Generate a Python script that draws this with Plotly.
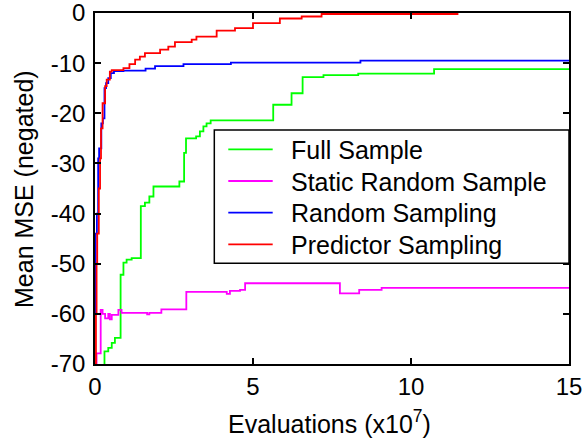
import plotly.graph_objects as go

# Full Sample
full_x = [0.28, 0.30, 0.42, 0.53, 0.63, 0.81, 0.90, 1.00, 1.16, 1.45, 1.58, 1.72, 1.85, 2.67, 2.82, 2.88, 3.20, 3.32, 3.43, 3.53, 3.66, 5.64, 6.22, 6.57, 7.23, 8.33, 10.73, 15.0]
full_y = [-70.0, -67.5, -66.8, -65.8, -64.8, -52.2, -49.8, -49.2, -48.9, -38.5, -37.8, -36.6, -34.6, -33.6, -27.9, -25.0, -24.6, -23.6, -22.6, -22.0, -21.4, -18.3, -16.0, -12.8, -12.4, -12.1, -11.2, -11.2]

# Static Random Sample
static_x = [0.04, 0.05, 0.18, 0.24, 0.32, 0.42, 0.47, 0.53, 0.74, 0.84, 1.65, 1.72, 2.10, 2.89, 4.17, 4.27, 4.59, 4.75, 7.75, 8.36, 9.07, 15.0]
static_y = [-70.0, -67.9, -59.2, -60.0, -60.9, -60.0, -61.1, -60.2, -59.2, -59.8, -60.1, -59.8, -59.1, -55.6, -56.0, -55.4, -55.2, -53.9, -55.9, -55.2, -54.8, -54.8]

# Random Sampling
rand_x = [0.0, 0.02, 0.06, 0.10, 0.13, 0.20, 0.25, 0.30, 0.35, 0.42, 0.50, 0.60, 0.90, 1.60, 1.90, 2.80, 4.30, 8.40, 15.0]
rand_y = [-60.0, -44.0, -40.0, -29.0, -27.0, -22.0, -21.0, -15.0, -14.0, -13.0, -12.0, -11.6, -11.5, -11.1, -10.6, -10.2, -9.9, -9.5, -9.5]

# Predictor Sampling
pred_x = [0.0, 0.03, 0.05, 0.07, 0.12, 0.16, 0.19, 0.24, 0.32, 0.37, 0.47, 0.53, 0.90, 1.09, 1.27, 1.42, 1.58, 2.06, 2.32, 2.53, 3.06, 3.21, 3.85, 4.43, 5.00, 5.85, 6.54, 7.17, 11.5]
pred_y = [-70.0, -60.0, -50.0, -44.0, -35.0, -29.0, -23.0, -18.0, -14.6, -13.3, -11.7, -11.4, -11.0, -10.2, -9.3, -8.7, -8.0, -7.3, -6.7, -5.8, -5.3, -4.7, -3.5, -3.0, -2.0, -1.1, -0.7, -0.2, -0.2]

series_names = ["Full Sample", "Static Random Sample", "Random Sampling", "Predictor Sampling"]
series_colors = ["#00ff00", "#ff00ff", "#0000ff", "#ff0000"]

x_ticks = [0, 5, 10, 15]
x_ticktext = ["0", "5", "10", "15"]
y_ticks = [0, -10, -20, -30, -40, -50, -60, -70]
y_ticktext = ["0", "-10", "-20", "-30", "-40", "-50", "-60", "-70"]

x_title = "Evaluations (x10<sup>7</sup>)"
y_title = "Mean MSE (negated)"

FONT = "Liberation Sans, Arial, sans-serif"

fig = go.Figure()
for xs, ys, name, col in zip([full_x, static_x, rand_x, pred_x],
                             [full_y, static_y, rand_y, pred_y],
                             series_names, series_colors):
    fig.add_trace(go.Scatter(x=xs, y=ys, mode="lines", name=name, showlegend=False,
                             line=dict(color=col, width=1.8, shape="hv")))

axis_common = dict(showline=True, linecolor="black", linewidth=1.5, mirror="ticks",
                   ticks="inside", ticklen=6, tickcolor="black", tickwidth=1.5,
                   showgrid=False, zeroline=False, automargin=False,
                   ticklabeloverflow="allow",
                   tickfont=dict(family=FONT, size=24, color="black"))

# legend: frame, line samples and labels (paper coordinates of the plot area)
LEG_X0, LEG_X1, LEG_Y0, LEG_Y1 = 0.2517, 1.0, 0.2869, 0.6667
fig.add_shape(type="rect", xref="paper", yref="paper",
              x0=LEG_X0, x1=LEG_X1, y0=LEG_Y0, y1=LEG_Y1,
              line=dict(color="black", width=1.5), fillcolor="white", layer="above")
row_top, row_step = 0.6117, 0.0903
for i, (name, col) in enumerate(zip(series_names, series_colors)):
    ry = row_top - i * row_step
    fig.add_shape(type="line", xref="paper", yref="paper",
                  x0=0.2812, x1=0.3749, y0=ry, y1=ry,
                  line=dict(color=col, width=1.8), layer="above")
    fig.add_annotation(xref="paper", yref="paper", x=0.4093, y=ry - 0.002,
                       xanchor="left", yanchor="middle", showarrow=False,
                       text=name, font=dict(family=FONT, size=25, color="black"))

# axis titles
fig.add_annotation(xref="paper", yref="paper", x=0.4937, y=-0.166,
                   xanchor="center", yanchor="middle", showarrow=False,
                   text=x_title, font=dict(family=FONT, size=25, color="black"))
fig.add_annotation(xref="paper", yref="paper", x=-0.1498, y=0.4986,
                   xanchor="center", yanchor="middle", showarrow=False, textangle=-90,
                   text=y_title, font=dict(family=FONT, size=25, color="black"))

fig.update_layout(
    width=584, height=440,
    margin=dict(l=95, r=15, t=13, b=76),
    paper_bgcolor="white", plot_bgcolor="white",
    font=dict(family=FONT, color="black"),
    xaxis=dict(range=[0, 15], tickvals=x_ticks, ticktext=x_ticktext,
               ticklabelstandoff=0, **axis_common),
    yaxis=dict(range=[-70, 0], tickvals=y_ticks, ticktext=y_ticktext,
               ticklabelstandoff=3, **axis_common),
    showlegend=False,
)

# remove the page's default body margin so the 584x440 figure fills the window
fig.write_html("out.html", config={"displayModeBar": False},
               post_script="document.body.style.margin='0';")
